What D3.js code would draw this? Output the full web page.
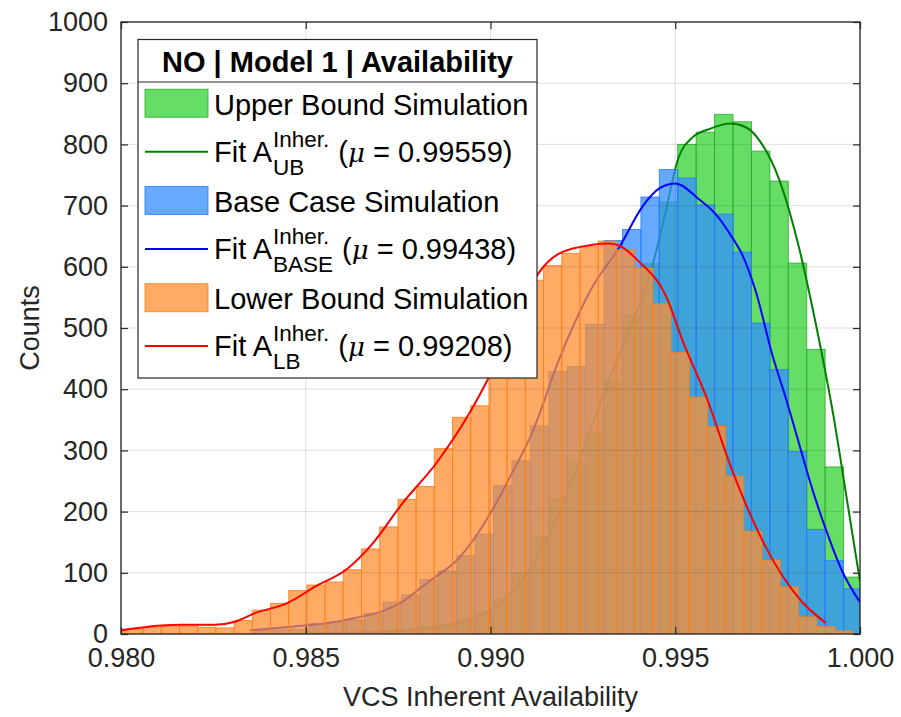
<!DOCTYPE html>
<html>
<head>
<meta charset="utf-8">
<script src="https://cdn.jsdelivr.net/npm/d3@7/dist/d3.min.js"></script>
<style>
  html, body { margin: 0; padding: 0; background: #fff; }
  svg { display: block; }
  text { font-family: "Liberation Sans", Arial, Helvetica, sans-serif; }
</style>
</head>
<body>
<svg id="chart" width="901" height="717"></svg>
<script>
// ---------------- DATA ----------------
const xTicks = [0.980, 0.985, 0.990, 0.995, 1.000];
const yTicks = [0, 100, 200, 300, 400, 500, 600, 700, 800, 900, 1000];

// Histogram bins (start of first bin, bin width, counts)
const lbBinStart = 0.979611;
const lbBinWidth = 0.0004927;
const lbCounts = [5, 8, 11, 12, 13, 11, 10, 22, 39, 50, 71, 80, 85, 105, 139, 175, 220, 241, 303, 354,
  373, 440, 515, 578, 602, 622, 633, 642, 628, 598, 540, 460, 387, 339, 258, 168, 121, 77, 28, 12, 5];

const simBinWidth = 0.0004986;
const baseBinStart = 0.983600;
const baseCounts = [6, 7, 8, 17, 19, 23, 34, 52, 64, 89, 103, 128, 163, 243, 283, 340,
  429, 437, 506, 643, 661, 714, 759, 745, 701, 686, 624, 508, 432, 298, 171, 120, 74];

const ubBinStart = 0.985594;
const ubCounts = [2, 3, 4, 5, 8, 12, 16, 24, 36, 58, 100, 159,
  220, 283, 330, 414, 520, 605, 706, 800, 820, 849, 837, 789, 740, 606, 465, 273, 93];

// Fitted curves (x = availability, y = counts)
const ubFitX = [0.984838, 0.987541, 0.988892, 0.990243, 0.991054, 0.991595, 0.992270, 0.992757, 0.993676,
  0.994297, 0.994703, 0.995081, 0.995459, 0.995919, 0.996505, 0.996911, 0.997351, 0.997811, 0.998351,
  0.998803, 0.999251, 0.999703, 1.000000];
const ubFitY = [1, 5, 15, 50, 105, 165, 260, 343, 485, 583, 680, 777, 811, 825, 834, 828, 800, 743, 631, 507, 367, 198, 86];

const baseFitX = [0.983486, 0.984614, 0.985514, 0.986405, 0.987054, 0.987541, 0.988270, 0.989162, 0.990054,
  0.990514, 0.991135, 0.991865, 0.992757, 0.993486, 0.994108, 0.994568, 0.995000, 0.995649, 0.996081,
  0.996541, 0.996811, 0.997189, 0.997622, 0.998000, 0.998351, 0.998703, 0.999081, 0.999514, 1.000000];
const baseFitY = [6, 12, 17, 27, 37, 50, 83, 125, 203, 255, 330, 450, 567, 632, 698, 728, 736, 710, 687,
  648, 620, 558, 457, 384, 311, 238, 170, 103, 52];

const lbFitX = [0.980000, 0.981100, 0.981641, 0.982541, 0.983081, 0.983622, 0.984514, 0.985243, 0.986135,
  0.986784, 0.987622, 0.988532, 0.989432, 0.989919, 0.990568, 0.991235, 0.991865, 0.992757, 0.993216,
  0.993505, 0.994027, 0.994751, 0.995200, 0.995830, 0.996549, 0.997451, 0.998351, 0.999073];
const lbFitY = [6, 14, 15, 15, 20, 34, 51, 77, 107, 146, 214, 279, 361, 415, 500, 584, 622, 636, 638,
  634, 608, 552, 479, 389, 266, 142, 58, 18];

const legendTitle = "NO | Model 1 | Availability";
const seriesNames = ["Upper Bound Simulation", "Base Case Simulation", "Lower Bound Simulation"];
const fitSubs = ["UB", "BASE", "LB"];
const fitMeans = ["0.99559", "0.99438", "0.99208"];
const xLabel = "VCS Inherent Availability";
const yLabel = "Counts";

// ---------------- LAYOUT ----------------
const L = 121, R = 860, T = 22, B = 634;
const axisColor = "#262626";
const faceAlpha = 0.75;
const colors = {
  ub:   { face: "rgb(51,211,51)",  edge: "rgb(40,170,40)",  line: "#008000" },
  base: { face: "rgb(51,142,255)", edge: "rgb(40,120,255)", line: "#0000ff" },
  lb:   { face: "rgb(255,143,51)", edge: "rgb(255,125,20)", line: "#ff0000" }
};

const svg = d3.select("#chart");
const x = d3.scaleLinear().domain([0.98, 1.0]).range([L, R]);
const y = d3.scaleLinear().domain([0, 1000]).range([B, T]);

svg.append("defs").append("clipPath").attr("id", "plotclip")
  .append("rect").attr("x", L).attr("y", T).attr("width", R - L).attr("height", B - T);

const plot = svg.append("g").attr("clip-path", "url(#plotclip)");

function drawHist(start, width, counts, c) {
  const bins = counts.map((v, i) => ({ x0: start + i * width, x1: start + (i + 1) * width, v }));
  plot.append("g").selectAll("rect").data(bins).join("rect")
    .attr("x", d => x(d.x0))
    .attr("width", d => x(d.x1) - x(d.x0))
    .attr("y", d => y(d.v))
    .attr("height", d => y(0) - y(d.v))
    .attr("fill", c.face).attr("fill-opacity", faceAlpha)
    .attr("stroke", c.edge).attr("stroke-opacity", 0.8).attr("stroke-width", 1);
}
function drawFit(xs, ys, c) {
  const pts = xs.map((v, i) => [v, ys[i]]);
  const line = d3.line().x(d => x(d[0])).y(d => y(d[1])).curve(d3.curveMonotoneX);
  plot.append("path").datum(pts).attr("d", line)
    .attr("fill", "none").attr("stroke", c.line).attr("stroke-width", 2);
}

drawHist(ubBinStart, simBinWidth, ubCounts, colors.ub);
drawFit(ubFitX, ubFitY, colors.ub);
drawHist(baseBinStart, simBinWidth, baseCounts, colors.base);
drawFit(baseFitX, baseFitY, colors.base);
drawHist(lbBinStart, lbBinWidth, lbCounts, colors.lb);
drawFit(lbFitX, lbFitY, colors.lb);

// grid (on top, translucent)
const grid = svg.append("g");
grid.selectAll("line.gx").data(xTicks).join("line")
  .attr("x1", d => x(d)).attr("x2", d => x(d)).attr("y1", T).attr("y2", B)
  .attr("stroke", axisColor).attr("stroke-opacity", 0.15).attr("stroke-width", 1);
grid.selectAll("line.gy").data(yTicks).join("line")
  .attr("x1", L).attr("x2", R).attr("y1", d => y(d)).attr("y2", d => y(d))
  .attr("stroke", axisColor).attr("stroke-opacity", 0.15).attr("stroke-width", 1);

// axes
const fontSize = 27;
const xAxis = d3.axisBottom(x).tickValues(xTicks).tickFormat(d3.format(".3f")).tickSize(-7).tickPadding(14);
const yAxis = d3.axisLeft(y).tickValues(yTicks).tickFormat(d3.format("d")).tickSize(-7).tickPadding(13);
const gx = svg.append("g").attr("transform", `translate(0,${B})`).call(xAxis);
const gy = svg.append("g").attr("transform", `translate(${L},0)`).call(yAxis);
const gxt = svg.append("g").attr("transform", `translate(0,${T})`).call(d3.axisTop(x).tickValues(xTicks).tickSize(-7).tickFormat(""));
const gyr = svg.append("g").attr("transform", `translate(${R},0)`).call(d3.axisRight(y).tickValues(yTicks).tickSize(-7).tickFormat(""));
[gx, gy, gxt, gyr].forEach(g => {
  g.select(".domain").remove();
  g.selectAll(".tick line").attr("stroke", axisColor).attr("stroke-width", 1.2);
  g.selectAll(".tick text").attr("fill", axisColor)
    .style("font-family", '"Liberation Sans", Arial, sans-serif').style("font-size", fontSize + "px");
});
svg.append("rect").attr("x", L).attr("y", T).attr("width", R - L).attr("height", B - T)
  .attr("fill", "none").attr("stroke", axisColor).attr("stroke-width", 1.3);

// axis labels
svg.append("text").attr("x", (L + R) / 2).attr("y", 706).attr("text-anchor", "middle")
  .attr("fill", axisColor).style("font-size", fontSize + "px").text(xLabel);
svg.append("text").attr("transform", "translate(39,328) rotate(-90)").attr("text-anchor", "middle")
  .attr("fill", axisColor).style("font-size", fontSize + "px").text(yLabel);

// ---------------- LEGEND ----------------
const lg = svg.append("g");
const LX0 = 138, LY0 = 39.5, LX1 = 537, LY1 = 378;
lg.append("rect").attr("x", LX0).attr("y", LY0).attr("width", LX1 - LX0).attr("height", LY1 - LY0)
  .attr("fill", "#fff").attr("stroke", axisColor).attr("stroke-width", 1.2);
lg.append("line").attr("x1", LX0).attr("x2", LX1).attr("y1", 82).attr("y2", 82)
  .attr("stroke", axisColor).attr("stroke-width", 1.2);
lg.append("text").attr("x", (LX0 + LX1) / 2).attr("y", 72).attr("text-anchor", "middle")
  .style("font-size", "29px").style("font-weight", "bold").attr("fill", "#000").text(legendTitle);

const keys = ["ub", "base", "lb"];
const textX = 214;
const legFont = 29, subFont = 22.5;
keys.forEach((k, i) => {
  const c = colors[k];
  const pcy = 103.3 + i * 97.2;
  lg.append("rect").attr("x", 145).attr("y", pcy - 14).attr("width", 63).attr("height", 28)
    .attr("fill", c.face).attr("fill-opacity", faceAlpha)
    .attr("stroke", c.edge).attr("stroke-opacity", 0.8).attr("stroke-width", 1);
  lg.append("text").attr("x", textX).attr("y", pcy + 11.5).style("font-size", legFont + "px")
    .attr("fill", "#000").text(seriesNames[i]);

  const lcy = 151.7 + i * 97.2;
  lg.append("line").attr("x1", 145).attr("x2", 208).attr("y1", lcy).attr("y2", lcy)
    .attr("stroke", c.line).attr("stroke-width", 2);
  const base = lcy + 10;
  const t1 = lg.append("text").attr("x", textX).attr("y", base).style("font-size", legFont + "px")
    .attr("fill", "#000").text("Fit A");
  const w1 = t1.node().getComputedTextLength();
  const sup = lg.append("text").attr("x", textX + w1 + 1).attr("y", base - 15).style("font-size", subFont + "px")
    .attr("fill", "#000").text("Inher.");
  const sub = lg.append("text").attr("x", textX + w1 + 1).attr("y", base + 13.3).style("font-size", subFont + "px")
    .attr("fill", "#000").text(fitSubs[i]);
  const w2 = Math.max(sup.node().getComputedTextLength(), sub.node().getComputedTextLength());
  const t3 = lg.append("text").attr("x", textX + w1 + 1 + w2 + 9).attr("y", base).style("font-size", legFont + "px")
    .attr("fill", "#000");
  t3.append("tspan").text("(");
  t3.append("tspan").style("font-style", "italic").style("font-family", '"DejaVu Serif", serif').style("font-size", "26px").text("μ");
  t3.append("tspan").text(" = " + fitMeans[i] + ")");
});
</script>
</body>
</html>
